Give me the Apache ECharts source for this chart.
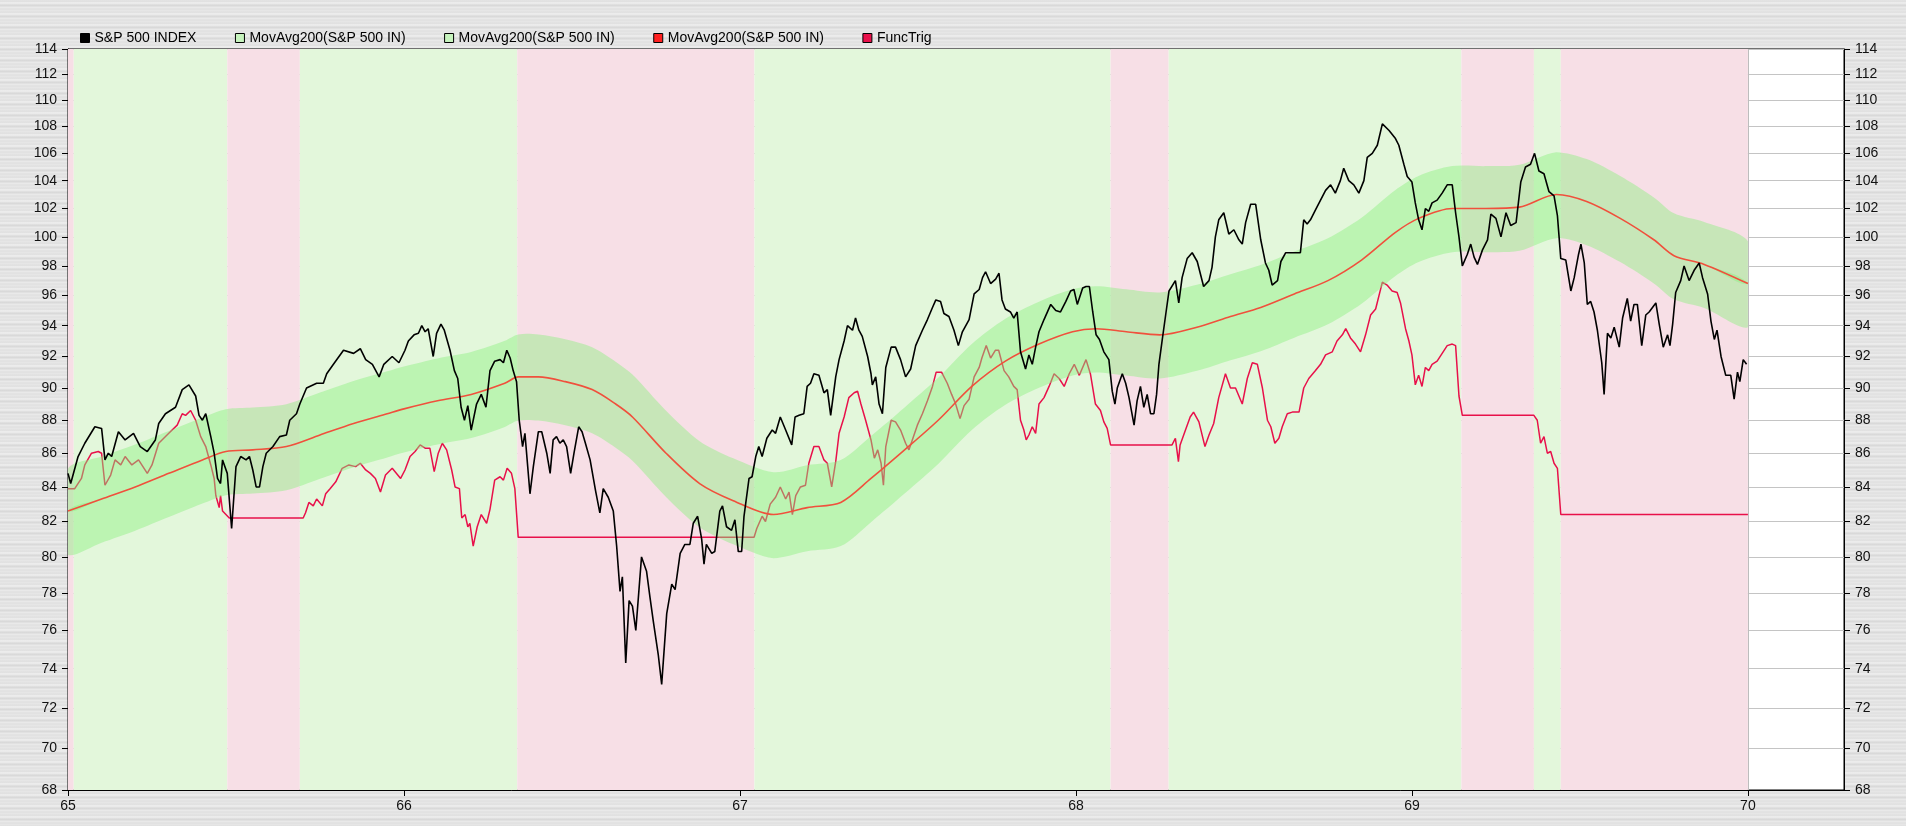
<!DOCTYPE html>
<html>
<head>
<meta charset="utf-8">
<title>S&amp;P 500 INDEX</title>
<script src="https://cdn.jsdelivr.net/npm/echarts@6.0.0/dist/echarts.min.js"></script>
<style>
  html, body { margin: 0; padding: 0; }
  body {
    width: 1906px; height: 826px; overflow: hidden;
    background:
      repeating-linear-gradient(180deg, #e9e9e9 0px, #dcdcdc 1px, #f1f1f1 3px, #e3e3e3 4px, #d6d6d6 6px, #ececec 7px, #e0e0e0 9px, #e8e8e8 11px);
  }
  #chart { width: 1906px; height: 826px; }
</style>
</head>
<body>
<div id="chart"></div>
<script>
/* axis ticks */
const xTicks = [65, 66, 67, 68, 69, 70]
const yTicks = [68, 70, 72, 74, 76, 78, 80, 82, 84, 86, 88, 90, 92, 94, 96, 98, 100, 102, 104, 106, 108, 110, 112, 114]
const X_MIN = 65
const X_MAX = 70.286

/* background regimes: [start, end, 'up' | 'down'] */
const regimes = [
  [65.0, 65.017, 'down'], [65.017, 65.474, 'up'], [65.474, 65.69, 'down'],
  [65.69, 66.337, 'up'], [66.337, 67.043, 'down'], [67.043, 68.103, 'up'],
  [68.103, 68.276, 'down'], [68.276, 69.147, 'up'], [69.147, 69.363, 'down'],
  [69.363, 69.443, 'up'], [69.443, 70.0, 'down']
]

/* S&P 500 index [year, value] */
const spx = [
  [65.000,84.8],[65.008,84.2],[65.03,85.8],[65.05,86.6],[65.08,87.6],[65.10,87.5],[65.11,85.6],[65.12,86.0],[65.13,85.8],[65.15,87.3],
  [65.17,86.8],[65.195,87.2],[65.215,86.4],[65.236,86.1],[65.26,86.8],[65.27,87.8],[65.29,88.4],[65.32,88.8],[65.34,89.9],[65.36,90.2],
  [65.38,89.5],[65.39,88.3],[65.40,88.0],[65.41,88.4],[65.425,87.0],[65.435,86.0],[65.445,84.5],[65.454,84.2],[65.46,85.6],[65.474,84.8],
  [65.487,81.6],[65.50,85.2],[65.514,85.8],[65.53,85.6],[65.54,85.8],[65.55,85.0],[65.56,84.0],[65.57,84.0],[65.58,85.2],[65.59,86.0],
  [65.61,86.4],[65.63,87.0],[65.65,87.1],[65.66,88.0],[65.68,88.4],[65.69,89.0],[65.70,89.5],[65.71,90.0],[65.74,90.3],[65.76,90.3],
  [65.77,90.9],[65.79,91.5],[65.82,92.4],[65.85,92.2],[65.87,92.5],[65.886,91.8],[65.906,91.5],[65.926,90.7],[65.94,91.5],[65.965,92.0],
  [65.985,91.6],[66.003,92.4],[66.013,93.0],[66.03,93.4],[66.043,93.5],[66.053,94.0],[66.063,93.6],[66.072,93.8],[66.087,92.0],[66.097,93.5],
  [66.11,94.1],[66.12,93.7],[66.137,92.4],[66.15,91.1],[66.16,90.6],[66.17,88.8],[66.18,88.0],[66.19,88.9],[66.20,87.4],[66.216,89.0],
  [66.23,89.6],[66.244,88.8],[66.256,91.1],[66.27,91.7],[66.286,91.8],[66.296,91.6],[66.306,92.4],[66.316,91.9],[66.325,91.1],[66.335,90.4],
  [66.343,88.0],[66.353,86.4],[66.36,87.2],[66.375,83.6],[66.385,85.2],[66.40,87.3],[66.41,87.3],[66.425,86.0],[66.435,84.8],[66.444,86.8],
  [66.454,87.0],[66.464,86.6],[66.474,86.8],[66.484,86.4],[66.496,84.8],[66.506,86.0],[66.52,87.6],[66.53,87.3],[66.54,86.6],[66.554,85.6],
  [66.57,83.8],[66.583,82.5],[66.593,83.9],[66.608,83.4],[66.623,82.6],[66.633,80.6],[66.643,78.1],[66.65,78.9],[66.66,74.3],[66.67,77.6],
  [66.68,77.3],[66.69,76.0],[66.707,80.0],[66.722,79.2],[66.732,77.8],[66.742,76.5],[66.757,74.7],[66.767,73.2],[66.782,76.9],[66.797,78.5],
  [66.807,78.2],[66.822,80.2],[66.836,80.7],[66.851,80.7],[66.861,81.9],[66.874,82.3],[66.886,81.0],[66.893,79.6],[66.90,80.7],[66.916,80.2],
  [66.925,80.3],[66.94,82.6],[66.948,82.9],[66.96,81.7],[66.975,81.5],[66.985,82.1],[66.995,80.3],[67.005,80.3],[67.012,82.3],[67.027,84.5],
  [67.036,84.6],[67.047,85.8],[67.056,86.4],[67.066,85.8],[67.08,86.9],[67.096,87.4],[67.106,87.2],[67.12,88.2],[67.136,87.4],[67.154,86.5],
  [67.164,88.2],[67.176,88.3],[67.19,88.4],[67.20,90.1],[67.21,90.3],[67.22,90.9],[67.235,90.8],[67.25,89.7],[67.26,89.9],[67.27,88.3],
  [67.285,90.7],[67.295,91.8],[67.31,93.0],[67.32,94.0],[67.335,93.7],[67.344,94.5],[67.354,93.7],[67.364,93.3],[67.38,92.0],[67.39,90.9],
  [67.394,90.2],[67.404,90.7],[67.414,89.0],[67.424,88.4],[67.434,91.3],[67.45,92.6],[67.463,92.6],[67.478,91.8],[67.493,90.7],[67.508,91.2],
  [67.523,92.7],[67.543,93.7],[67.558,94.4],[67.573,95.2],[67.583,95.7],[67.597,95.6],[67.607,94.8],[67.622,94.6],[67.637,93.7],[67.65,92.7],
  [67.662,93.6],[67.682,94.4],[67.697,96.1],[67.712,96.4],[67.722,97.2],[67.731,97.6],[67.746,96.8],[67.761,97.1],[67.771,97.5],[67.78,95.7],
  [67.79,95.1],[67.805,94.9],[67.815,94.5],[67.825,94.9],[67.835,92.3],[67.85,91.2],[67.86,92.1],[67.87,91.5],[67.88,92.6],[67.89,93.6],
  [67.905,94.4],[67.925,95.4],[67.94,95.0],[67.954,94.9],[67.97,95.6],[67.984,96.3],[67.994,96.4],[68.004,95.4],[68.02,96.5],[68.03,96.6],
  [68.04,96.6],[68.05,94.9],[68.06,93.4],[68.07,93.1],[68.083,92.3],[68.098,91.8],[68.108,89.8],[68.116,89.0],[68.123,90.0],[68.138,90.9],
  [68.148,90.3],[68.158,89.4],[68.173,87.7],[68.182,89.2],[68.192,90.1],[68.202,88.8],[68.212,89.6],[68.222,88.4],[68.232,88.4],[68.24,89.6],
  [68.247,91.5],[68.257,93.1],[68.267,94.7],[68.277,96.3],[68.296,97.0],[68.306,95.5],[68.316,97.2],[68.331,98.5],[68.346,98.9],[68.361,98.3],
  [68.38,96.6],[68.396,97.0],[68.405,97.9],[68.415,100.0],[68.425,101.2],[68.44,101.7],[68.455,100.2],[68.47,100.5],[68.485,99.8],[68.495,99.5],
  [68.505,101.0],[68.52,102.3],[68.535,102.3],[68.55,99.8],[68.564,98.2],[68.574,97.7],[68.584,96.7],[68.60,97.0],[68.61,98.3],[68.624,98.9],
  [68.644,98.9],[68.668,98.9],[68.678,101.2],[68.688,100.9],[68.698,101.2],[68.713,101.9],[68.728,102.6],[68.743,103.3],[68.758,103.7],[68.772,103.1],
  [68.787,104.0],[68.797,104.9],[68.812,104.0],[68.827,103.7],[68.842,103.1],[68.857,104.0],[68.867,105.7],[68.882,106.0],[68.897,106.6],[68.912,108.2],
  [68.932,107.7],[68.951,107.1],[68.961,106.6],[68.976,105.2],[68.986,104.3],[69.0,103.9],[69.01,102.4],[69.02,101.2],[69.03,100.5],[69.04,102.0],
  [69.05,101.8],[69.06,102.4],[69.075,102.6],[69.09,103.1],[69.105,103.7],[69.12,103.7],[69.13,101.7],[69.14,100.0],[69.15,98.0],[69.165,98.8],
  [69.175,99.5],[69.185,98.6],[69.195,98.1],[69.21,99.1],[69.225,99.8],[69.235,101.6],[69.25,101.3],[69.265,100.0],[69.28,101.7],[69.294,100.8],
  [69.31,101.0],[69.324,103.9],[69.338,105.0],[69.353,105.2],[69.365,106.0],[69.378,104.7],[69.393,104.5],[69.408,103.2],[69.423,102.9],[69.433,101.5],
  [69.443,98.5],[69.458,98.4],[69.473,96.3],[69.483,97.2],[69.496,98.8],[69.503,99.5],[69.513,98.2],[69.522,95.4],[69.532,95.6],[69.542,94.9],
  [69.552,93.7],[69.565,91.6],[69.572,89.6],[69.582,93.5],[69.592,93.2],[69.602,93.9],[69.617,92.6],[69.627,94.5],[69.641,95.8],[69.651,94.3],
  [69.661,95.4],[69.671,95.4],[69.684,92.7],[69.696,94.7],[69.706,94.9],[69.726,95.5],[69.736,94.1],[69.748,92.6],[69.761,93.4],[69.768,92.7],
  [69.776,94.1],[69.785,96.2],[69.80,97.0],[69.81,98.0],[69.825,97.0],[69.84,97.7],[69.855,98.2],[69.865,97.2],[69.88,96.1],[69.89,94.3],
  [69.90,93.1],[69.908,93.7],[69.92,92.0],[69.934,90.8],[69.949,90.8],[69.959,89.3],[69.969,91.0],[69.976,90.4],[69.986,91.8],[69.996,91.5]
]

/* 200 day moving average [year, value] */
const movAvg = [
  [65.0,82.6],[65.1,83.3],[65.2,84.0],[65.3,84.8],[65.4,85.6],[65.47,86.1],[65.55,86.2],[65.65,86.4],[65.75,87.1],[65.85,87.8],
  [65.95,88.4],[66.0,88.7],[66.1,89.2],[66.2,89.6],[66.3,90.3],[66.34,90.7],[66.4,90.7],[66.48,90.4],[66.56,89.9],[66.63,89.0],
  [66.68,88.2],[66.78,86.0],[66.88,84.2],[66.98,83.2],[67.1,82.4],[67.2,82.8],[67.3,83.1],[67.39,84.5],[67.49,86.2],[67.59,88.0],
  [67.69,90.1],[67.79,91.7],[67.89,92.8],[67.99,93.6],[68.06,93.8],[68.15,93.6],[68.25,93.4],[68.36,93.9],[68.46,94.6],[68.55,95.2],
  [68.65,96.1],[68.75,97.0],[68.85,98.4],[68.95,100.3],[69.02,101.3],[69.12,102.0],[69.22,102.0],[69.32,102.1],[69.43,103.0],[69.52,102.5],
  [69.62,101.3],[69.72,99.8],[69.78,98.7],[69.87,98.1],[70.0,96.8]
]
/* envelope width around the moving average */
const ENVELOPE = 0.03

/* FuncTrig [year, value] */
const funcTrig = [
  [65.0,83.9],[65.02,83.9],[65.04,84.5],[65.05,85.3],[65.07,86.0],[65.09,86.1],[65.10,86.0],[65.11,84.1],[65.127,84.7],[65.14,85.6],
  [65.157,85.3],[65.17,85.8],[65.19,85.3],[65.21,85.6],[65.236,84.8],[65.25,85.3],[65.27,86.6],[65.30,87.2],[65.325,87.7],[65.34,88.4],
  [65.35,88.3],[65.365,88.6],[65.38,88.0],[65.395,87.0],[65.41,86.4],[65.425,85.3],[65.435,84.5],[65.44,83.5],[65.45,82.8],[65.454,83.5],
  [65.46,82.6],[65.48,82.2],[65.70,82.2],[65.707,82.5],[65.717,83.1],[65.73,82.9],[65.74,83.3],[65.757,82.9],[65.767,83.6],[65.78,83.9],
  [65.797,84.3],[65.816,85.1],[65.836,85.3],[65.856,85.2],[65.87,85.4],[65.886,85.0],[65.90,84.8],[65.915,84.5],[65.93,83.7],[65.945,84.7],
  [65.965,85.1],[65.99,84.5],[66.003,85.0],[66.018,85.8],[66.033,86.1],[66.048,86.5],[66.053,86.6],[66.063,86.3],[66.077,86.3],[66.09,84.9],
  [66.102,86.0],[66.114,86.6],[66.127,86.2],[66.142,85.0],[66.152,84.0],[66.165,83.9],[66.172,82.2],[66.182,82.4],[66.19,81.7],[66.196,81.9],
  [66.206,80.6],[66.218,81.7],[66.23,82.4],[66.246,81.9],[66.256,82.7],[66.27,84.4],[66.286,84.6],[66.296,84.4],[66.307,85.1],[66.32,84.8],
  [66.33,83.9],[66.34,81.1],[67.042,81.1],[67.05,81.6],[67.066,82.3],[67.076,82.0],[67.09,83.0],[67.106,83.4],[67.12,84.0],[67.136,83.3],
  [67.146,83.7],[67.156,82.4],[67.166,83.5],[67.18,84.0],[67.195,84.1],[67.205,85.4],[67.22,86.4],[67.235,86.4],[67.25,85.6],[67.26,85.4],
  [67.273,84.0],[67.285,85.5],[67.295,87.2],[67.31,88.2],[67.324,89.4],[67.34,89.7],[67.35,89.8],[67.36,89.0],[67.374,88.0],[67.39,86.8],
  [67.40,85.7],[67.41,86.2],[67.42,85.4],[67.427,84.1],[67.434,86.4],[67.45,88.0],[67.463,87.9],[67.478,87.4],[67.493,86.6],[67.503,86.2],
  [67.513,86.8],[67.528,87.7],[67.543,88.4],[67.558,89.2],[67.573,90.1],[67.584,91.0],[67.60,91.0],[67.617,90.3],[67.63,89.6],[67.642,89.0],
  [67.655,88.1],[67.667,88.9],[67.682,89.3],[67.697,90.7],[67.712,91.3],[67.72,91.9],[67.733,92.7],[67.746,91.9],[67.76,92.4],[67.77,92.4],
  [67.786,91.1],[67.80,90.7],[67.815,90.1],[67.825,89.9],[67.835,88.0],[67.845,87.4],[67.852,86.8],[67.86,87.1],[67.87,87.6],[67.88,87.2],
  [67.89,89.0],[67.905,89.4],[67.92,90.1],[67.935,90.9],[67.95,90.6],[67.965,90.1],[67.98,90.9],[67.995,91.5],[68.01,90.8],[68.03,91.8],
  [68.043,90.9],[68.058,89.0],[68.073,88.6],[68.083,87.9],[68.093,87.5],[68.103,86.5],[68.286,86.5],[68.296,86.9],[68.305,85.5],[68.31,86.5],
  [68.326,87.4],[68.34,88.2],[68.35,88.5],[68.366,87.9],[68.384,86.4],[68.396,87.1],[68.41,87.8],[68.425,89.4],[68.445,90.9],[68.46,90.0],
  [68.475,90.0],[68.495,89.0],[68.51,90.6],[68.525,91.6],[68.54,91.5],[68.555,90.0],[68.57,88.0],[68.58,87.6],[68.592,86.6],[68.604,86.9],
  [68.614,87.6],[68.629,88.4],[68.644,88.5],[68.664,88.5],[68.678,90.0],[68.693,90.6],[68.713,91.1],[68.728,91.5],[68.743,92.1],[68.763,92.3],
  [68.777,93.0],[68.793,93.4],[68.803,93.8],[68.817,93.2],[68.832,92.8],[68.847,92.3],[68.862,93.4],[68.877,94.7],[68.892,95.1],[68.912,96.9],
  [68.926,96.7],[68.941,96.3],[68.956,96.2],[68.966,95.5],[68.981,93.8],[68.991,93.0],[69.0,92.1],[69.01,90.2],[69.02,90.8],[69.03,90.1],
  [69.04,91.3],[69.05,91.1],[69.06,91.5],[69.075,91.7],[69.09,92.2],[69.105,92.7],[69.12,92.8],[69.13,92.7],[69.14,89.5],[69.15,88.3],
  [69.363,88.3],[69.373,88.0],[69.383,86.6],[69.393,87.0],[69.403,86.0],[69.413,86.1],[69.423,85.4],[69.433,85.1],[69.443,82.4],[70.0,82.4]
]

/* legend names (the three MovAvg200 entries share one visible text) */
const N_SPX = 'S&P 500 INDEX'
const N_UP = 'MovAvg200(S&P 500 IN)'
const N_LOW = 'MovAvg200(S&P 500 IN)\u200b'
const N_MA = 'MovAvg200(S&P 500 IN)\u200b\u200b'
const N_TRIG = 'FuncTrig'

const FONT = 'Liberation Sans, Arial, sans-serif'
const UP_BG = '#e3f7db'
const DOWN_BG = '#f7dfe6'
const BAND = 'rgba(140, 240, 128, 0.45)'
const SMOOTH = 0.3

/* the price scale is logarithmic: plot ln(value) on a value axis */
const ln = Math.log
const toLog = (pts) => pts.map(([t, v]) => [t, ln(v)])
const maLog = toLog(movAvg)
const bandUpper = movAvg.map(([t, v]) => [t, ln(v * (1 + ENVELOPE))])
const bandLower = movAvg.map(([t, v]) => [t, ln(v * (1 - ENVELOPE))])

// filled strip between two curves, placed through the axes
const stripSeries = (name, top, bottom) => ({
  name: name,
  type: 'custom',
  coordinateSystem: 'cartesian2d',
  clip: true,
  silent: true,
  z: 4,
  itemStyle: { color: '#c6f3bd' },
  data: [top[0]],
  renderItem: (params, api) => {
    const pts = top.map((p) => api.coord(p)).concat(bottom.map((p) => api.coord(p)).reverse())
    const xs = pts.map((p) => p[0])
    const ys = pts.map((p) => p[1])
    const box = [[Math.min(...xs), Math.min(...ys)], [Math.max(...xs), Math.max(...ys)]]
    return {
      type: 'polygon',
      shape: { points: pts, smooth: SMOOTH, smoothConstraint: box },
      style: { fill: BAND },
    }
  },
})

const yAxisBase = {
  type: 'value',
  min: ln(yTicks[0]),
  max: ln(yTicks[yTicks.length - 1]),
  axisLine: { show: true, lineStyle: { color: '#000', width: 1 } },
  axisTick: { show: true, length: 6, customValues: yTicks.map(ln), lineStyle: { color: '#000' } },
  axisLabel: {
    customValues: yTicks.map(ln),
    formatter: (v) => String(Math.round(Math.exp(v))),
    color: '#111', fontFamily: FONT, fontSize: 14, margin: 11,
  },
}

var myChart = echarts.init(document.getElementById('chart'))
const option = {
  animation: false,
  textStyle: { fontFamily: FONT },
  legend: {
    left: 75,
    top: 26,
    itemGap: 38.5,
    itemWidth: 9,
    itemHeight: 9,
    icon: 'rect',
    textStyle: { fontFamily: FONT, fontSize: 14, color: '#000' },
    itemStyle: { borderColor: '#000', borderWidth: 1 },
    selectedMode: false,
    data: [
      { name: N_SPX, itemStyle: { color: '#000' } },
      { name: N_UP, itemStyle: { color: '#c6f3bd' } },
      { name: N_LOW, itemStyle: { color: '#c6f3bd' } },
      { name: N_MA, itemStyle: { color: '#ff2020' } },
      { name: N_TRIG, itemStyle: { color: '#e8104a' } },
    ],
  },
  grid: {
    left: 68, right: 62, top: 49, bottom: 36,
    show: true, backgroundColor: '#fff', borderColor: '#000', borderWidth: 1,
  },
  xAxis: {
    type: 'value',
    min: X_MIN,
    max: X_MAX,
    axisLine: { show: true, lineStyle: { color: '#000', width: 1 } },
    axisTick: { show: true, length: 6, customValues: xTicks, lineStyle: { color: '#000' } },
    axisLabel: {
      customValues: xTicks,
      formatter: (v) => String(Math.round(v)),
      color: '#111', fontFamily: FONT, fontSize: 14, margin: 9,
    },
    splitLine: { show: true, lineStyle: { color: '#bdbdbd', width: 1 } },
  },
  yAxis: [
    Object.assign({}, yAxisBase, {
      position: 'left',
      splitLine: { show: true, lineStyle: { color: '#c4c4c4', width: 1 } },
    }),
    Object.assign({}, yAxisBase, { position: 'right', splitLine: { show: false } }),
  ],
  series: [
    {
      // background regimes
      name: 'regimes',
      type: 'line',
      data: [],
      silent: true,
      z: 1,
      markArea: {
        silent: true,
        label: { show: false },
        data: regimes.map(([a, b, kind]) => [
          { xAxis: a, itemStyle: { color: kind === 'up' ? UP_BG : DOWN_BG } },
          { xAxis: b },
        ]),
      },
    },
    {
      name: N_TRIG,
      type: 'line',
      data: toLog(funcTrig),
      showSymbol: false,
      z: 3,
      lineStyle: { color: '#e8104a', width: 1.5 },
      itemStyle: { color: '#e8104a' },
    },
    stripSeries(N_UP, bandUpper, maLog),
    stripSeries(N_LOW, maLog, bandLower),
    {
      name: N_MA,
      type: 'line',
      data: maLog,
      smooth: SMOOTH,
      showSymbol: false,
      z: 5,
      lineStyle: { color: '#f0503c', width: 1.6 },
      itemStyle: { color: '#ff2020' },
    },
    {
      name: N_SPX,
      type: 'line',
      data: toLog(spx),
      showSymbol: false,
      z: 6,
      lineStyle: { color: '#000', width: 1.6 },
      itemStyle: { color: '#000' },
    },
  ],
}
myChart.setOption(option)
</script>
</body>
</html>
